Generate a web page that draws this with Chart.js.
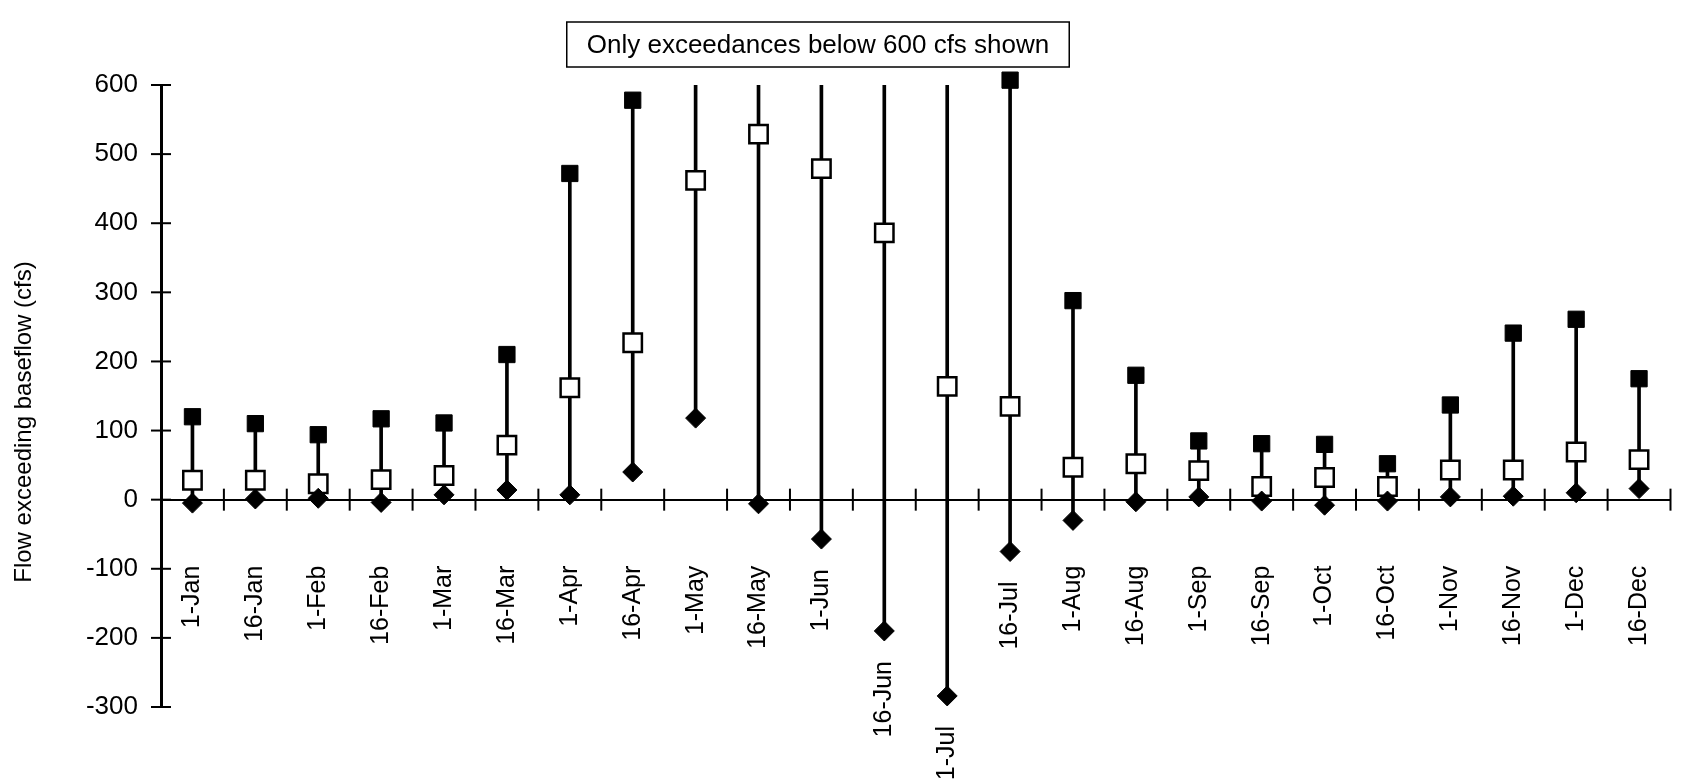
<!DOCTYPE html>
<html>
<head>
<meta charset="utf-8">
<script src="https://cdn.jsdelivr.net/npm/chart.js@4.4.1/dist/chart.umd.min.js"></script>
<style>
  html, body { margin: 0; padding: 0; background: #fff; }
</style>
</head>
<body>
<canvas id="chart" width="1686" height="780"></canvas>
<script>
/* ---- values (flow above baseflow, cfs) ---- */
const dates = ["1-Jan", "16-Jan", "1-Feb", "16-Feb", "1-Mar", "16-Mar",
               "1-Apr", "16-Apr", "1-May", "16-May", "1-Jun", "16-Jun",
               "1-Jul", "16-Jul", "1-Aug", "16-Aug", "1-Sep", "16-Sep",
               "1-Oct", "16-Oct", "1-Nov", "16-Nov", "1-Dec", "16-Dec"];

// null = exceedance above 600 cfs, not shown (line runs to top of axis)
const highs = [120, 110, 94, 117, 111, 210, 472, 578, null, null, null, null,
               null, 607, 288, 180, 85, 81, 80, 52, 137, 241, 261, 175];
const mids  = [28, 28, 23, 29, 35, 79, 162, 227, 462, 529, 479, 386,
               164, 135, 47, 52, 42, 19, 32, 19, 43, 43, 69, 58];
const lows  = [-5, 1, 2, -4, 7, 14, 7, 40, 118, -6, -57, -190,
               -284, -75, -30, -3, 4, -2, -8, -2, 4, 5, 10, 16];

const yTickValues = [-300, -200, -100, 0, 100, 200, 300, 400, 500, 600];
const Y_MIN = -300;
const Y_MAX = 600;

const yTitle = "Flow exceeding baseflow (cfs)";
const noteText = "Only exceedances below 600 cfs shown";

const FONT = '"Liberation Sans", Arial, Helvetica, sans-serif';

/* ---- extra drawing: crossing ticks, date labels, note box ---- */
const annotPlugin = {
    id: "annot",
    beforeDatasetsDraw(chart) {
        const ctx = chart.ctx;
        const xs = chart.scales.x;
        const ys = chart.scales.y;
        const y0 = ys.getPixelForValue(0);
        ctx.save();
        ctx.strokeStyle = "#000";
        ctx.lineWidth = 2;
        // x ticks between categories, crossing the zero line
        for (let i = 0; i < dates.length; i++) {
            const x = xs.getPixelForValue(i + 0.5);
            ctx.beginPath();
            ctx.moveTo(x, y0 - 11);
            ctx.lineTo(x, y0 + 11);
            ctx.stroke();
        }
        // y ticks crossing the axis
        const xa = chart.chartArea.left;
        yTickValues.forEach(v => {
            const y = ys.getPixelForValue(v);
            ctx.beginPath();
            ctx.moveTo(xa - 10, y);
            ctx.lineTo(xa + 10, y);
            ctx.stroke();
        });
        ctx.restore();
    },
    afterDraw(chart) {
        const ctx = chart.ctx;
        const xs = chart.scales.x;
        const ys = chart.scales.y;
        const y0 = ys.getPixelForValue(0);
        ctx.save();
        ctx.fillStyle = "#000";

        // date labels, pushed below the low marker when it hangs under the axis
        ctx.font = "25px " + FONT;
        ctx.textAlign = "right";
        ctx.textBaseline = "middle";
        dates.forEach((d, i) => {
            const x = xs.getPixelForValue(i);
            const top = Math.max(y0 + 66, ys.getPixelForValue(lows[i]) + 30);
            ctx.save();
            ctx.translate(x, top);
            ctx.rotate(-Math.PI / 2);
            ctx.fillText(d, 0, 0);
            ctx.restore();
        });

        // y axis title
        ctx.font = "24px " + FONT;
        ctx.save();
        ctx.translate(24, 422);
        ctx.rotate(-Math.PI / 2);
        ctx.textAlign = "center";
        ctx.fillText(yTitle, 0, 0);
        ctx.restore();

        // note box
        ctx.font = "26px " + FONT;
        ctx.textAlign = "center";
        const w = ctx.measureText(noteText).width + 40;
        const cx = 818, top = 22, h = 45;
        ctx.fillStyle = "#fff";
        ctx.fillRect(cx - w / 2, top, w, h);
        ctx.strokeStyle = "#000";
        ctx.lineWidth = 1.5;
        ctx.strokeRect(cx - w / 2, top, w, h);
        ctx.fillStyle = "#000";
        ctx.fillText(noteText, cx, top + h / 2 + 1);
        ctx.restore();
    }
};

new Chart(document.getElementById("chart"), {
    data: {
        labels: dates,
        datasets: [
            {
                type: "bar",
                data: dates.map((d, i) => [lows[i], highs[i] === null ? Y_MAX : highs[i]]),
                backgroundColor: "#000",
                barThickness: 3,
                order: 4
            },
            {
                type: "line",
                data: mids,
                showLine: false,
                pointStyle: "rect",
                pointRadius: 13,
                pointBackgroundColor: "#fff",
                pointBorderColor: "#000",
                pointBorderWidth: 2.5,
                order: 3
            },
            {
                type: "line",
                data: lows,
                showLine: false,
                pointStyle: "rectRot",
                pointRadius: 10,
                pointBackgroundColor: "#000",
                pointBorderColor: "#000",
                pointBorderWidth: 1,
                order: 2
            },
            {
                type: "line",
                data: highs,
                showLine: false,
                pointStyle: "rect",
                pointRadius: 11.5,
                pointBackgroundColor: "#000",
                pointBorderColor: "#000",
                pointBorderWidth: 1,
                clip: false,
                order: 1
            }
        ]
    },
    options: {
        responsive: false,
        animation: false,
        devicePixelRatio: 1,
        layout: { padding: { left: 0, right: 6, top: 85, bottom: 73 } },
        plugins: {
            legend: { display: false },
            tooltip: { enabled: false }
        },
        scales: {
            x: {
                type: "category",
                position: { y: 0 },
                offset: true,
                grid: { display: false, drawTicks: false },
                ticks: { display: false },
                border: { color: "#000", width: 2 }
            },
            y: {
                min: Y_MIN,
                max: Y_MAX,
                afterBuildTicks: s => { s.ticks = yTickValues.map(v => ({ value: v })); },
                afterFit: s => { s.width = 161; },
                grid: { display: false, drawTicks: false },
                border: { color: "#000", width: 3 },
                ticks: {
                    color: "#000",
                    padding: 23,
                    font: { size: 26, family: FONT }
                }
            }
        }
    },
    plugins: [annotPlugin]
});
</script>
</body>
</html>
